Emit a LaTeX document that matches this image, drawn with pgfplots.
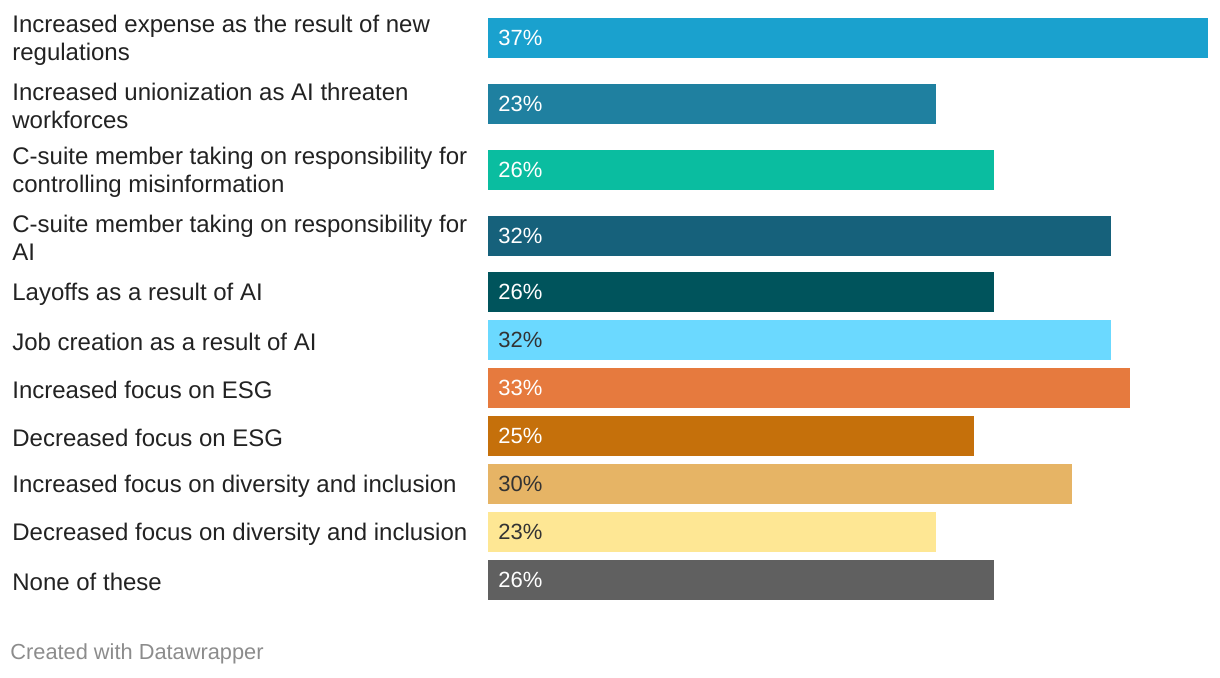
\documentclass[border=0pt]{standalone}
\usepackage{pgfplots}
\pgfplotsset{compat=1.18}
\usepackage{fontspec}
\setmainfont{Liberation Sans}
\definecolor{c1}{HTML}{1AA1CE}
\definecolor{c2}{HTML}{1F80A0}
\definecolor{c3}{HTML}{0ABDA0}
\definecolor{c4}{HTML}{16617B}
\definecolor{c5}{HTML}{00545C}
\definecolor{c6}{HTML}{6BD9FF}
\definecolor{c7}{HTML}{E67A3E}
\definecolor{c8}{HTML}{C5700B}
\definecolor{c9}{HTML}{E6B465}
\definecolor{c10}{HTML}{FEE794}
\definecolor{c11}{HTML}{606060}
\definecolor{txt}{HTML}{222222}
\definecolor{dtxt}{HTML}{333333}
\begin{document}
\begin{tikzpicture}
\path[use as bounding box] (0,0) rectangle (610pt,339pt);
\begin{axis}[
  at={(244pt,0pt)}, anchor=south west,
  scale only axis, width=360pt, height=339pt,
  xmin=0, xmax=37, ymin=0, ymax=678,
  axis line style={draw=none},
  xtick=\empty,
  xbar, bar width=20pt,
  bar shift=0pt,
  clip=false,
  ytick={640,574,508,442,386,338,290,242,194,146,98},
  yticklabels={
    {Increased expense as the result of new\\regulations},
    {Increased unionization as AI threaten\\workforces},
    {C-suite member taking on responsibility for\\controlling misinformation},
    {C-suite member taking on responsibility for\\AI},
    {Layoffs as a result of AI},
    {Job creation as a result of AI},
    {Increased focus on ESG},
    {Decreased focus on ESG},
    {Increased focus on diversity and inclusion},
    {Decreased focus on diversity and inclusion},
    {None of these}},
  yticklabel style={anchor=west, inner sep=0pt, xshift=-238pt, yshift=-1pt, align=left,
    font=\fontsize{12}{14}\selectfont, text=txt},
  major tick length=0pt,
  tick style={draw=none},
]
\addplot[fill=c1, draw=none] coordinates {(37,640)};
\addplot[fill=c2, draw=none] coordinates {(23,574)};
\addplot[fill=c3, draw=none] coordinates {(26,508)};
\addplot[fill=c4, draw=none] coordinates {(32,442)};
\addplot[fill=c5, draw=none] coordinates {(26,386)};
\addplot[fill=c6, draw=none] coordinates {(32,338)};
\addplot[fill=c7, draw=none] coordinates {(33,290)};
\addplot[fill=c8, draw=none] coordinates {(25,242)};
\addplot[fill=c9, draw=none] coordinates {(30,194)};
\addplot[fill=c10, draw=none] coordinates {(23,146)};
\addplot[fill=c11, draw=none] coordinates {(26,98)};
\addplot[draw=none, xbar=false, mark=none, point meta=explicit symbolic,
  nodes near coords, every node near coord/.append style={anchor=west, inner sep=0pt, xshift=5pt, text=white, font=\fontsize{11}{13}\selectfont}]
  coordinates {(0,640) [37\%] (0,574) [23\%] (0,508) [26\%] (0,442) [32\%] (0,386) [26\%] (0,290) [33\%] (0,242) [25\%] (0,98) [26\%]};
\addplot[draw=none, xbar=false, mark=none, point meta=explicit symbolic,
  nodes near coords, every node near coord/.append style={anchor=west, inner sep=0pt, xshift=5pt, text=dtxt, font=\fontsize{11}{13}\selectfont}]
  coordinates {(0,338) [32\%] (0,194) [30\%] (0,146) [23\%]};
\node[anchor=west, inner sep=0pt, text=gray!90, font=\fontsize{10.9}{12}\selectfont] at (axis cs:0,24) [xshift=-239pt] {Created with Datawrapper};
\end{axis}
\end{tikzpicture}
\end{document}
